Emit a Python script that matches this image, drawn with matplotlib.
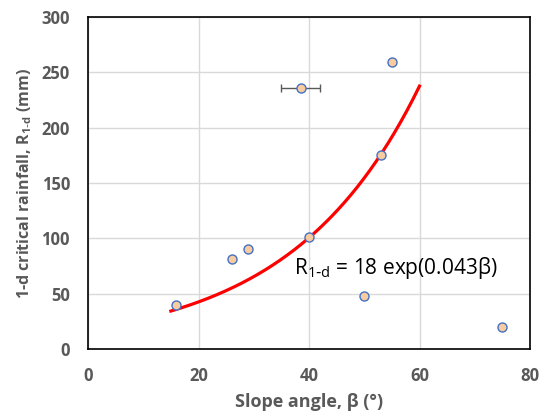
import numpy as np
from matplotlib import pyplot as plt

plt.rcParams['font.family'] = ['Open Sans', 'DejaVu Sans']
plt.rcParams['mathtext.default'] = 'regular'

# data
slope = [16, 26, 29, 38.5, 40, 55, 53, 50, 75]
rain = [40, 81, 90, 236, 101, 259, 175, 48, 20]
slope_err = [0, 0, 0, 3.5, 0, 0, 0, 0, 0]

# fitted curve R = 18 exp(0.043 beta)
fit_a = 18
fit_b = 0.043
fit_x = np.linspace(15, 60, 200)
fit_y = fit_a * np.exp(fit_b * fit_x)

fig = plt.figure(figsize=(5.43, 4.18), dpi=100)
ax = fig.add_axes([88/543, 1-349/418, 442/543, 332/418])

ax.plot(fit_x, fit_y, color='#ff0000', lw=2.3, zorder=2)
ax.errorbar(slope, rain, xerr=slope_err, fmt='none', ecolor='#595959',
            elinewidth=1, capsize=3, capthick=1, zorder=3)
ax.plot(slope, rain, 'o', ms=6.5, mfc='#f8cba0', mec='#4472c4', mew=1, zorder=4)

ax.text(37.2, 73, 'R$_{1\\text{-}d}$ = 18 exp(0.043β)', fontsize=15, va='center',
        ha='left', color='black')

ax.set_xlim(0, 80)
ax.set_ylim(0, 300)
ax.set_xticks([0, 20, 40, 60, 80])
ax.set_yticks([0, 50, 100, 150, 200, 250, 300])
ax.grid(True, color='#d9d9d9', lw=1)
ax.set_axisbelow(True)
for s in ax.spines.values():
    s.set_color('black')
    s.set_linewidth(1.2)
ax.tick_params(length=0, labelsize=12, labelcolor='#595959', pad=13)
for lab in ax.get_xticklabels() + ax.get_yticklabels():
    lab.set_fontweight('bold')

ax.set_xlabel('Slope angle, β (°)', fontsize=13, fontweight='bold',
              color='#595959', labelpad=6)
ax.set_ylabel('1-d critical rainfall, R$_{1\\text{-}d}$ (mm)', fontsize=11.5,
              fontweight='bold', color='#595959', labelpad=5)

fig.savefig('out.png', dpi=100)
